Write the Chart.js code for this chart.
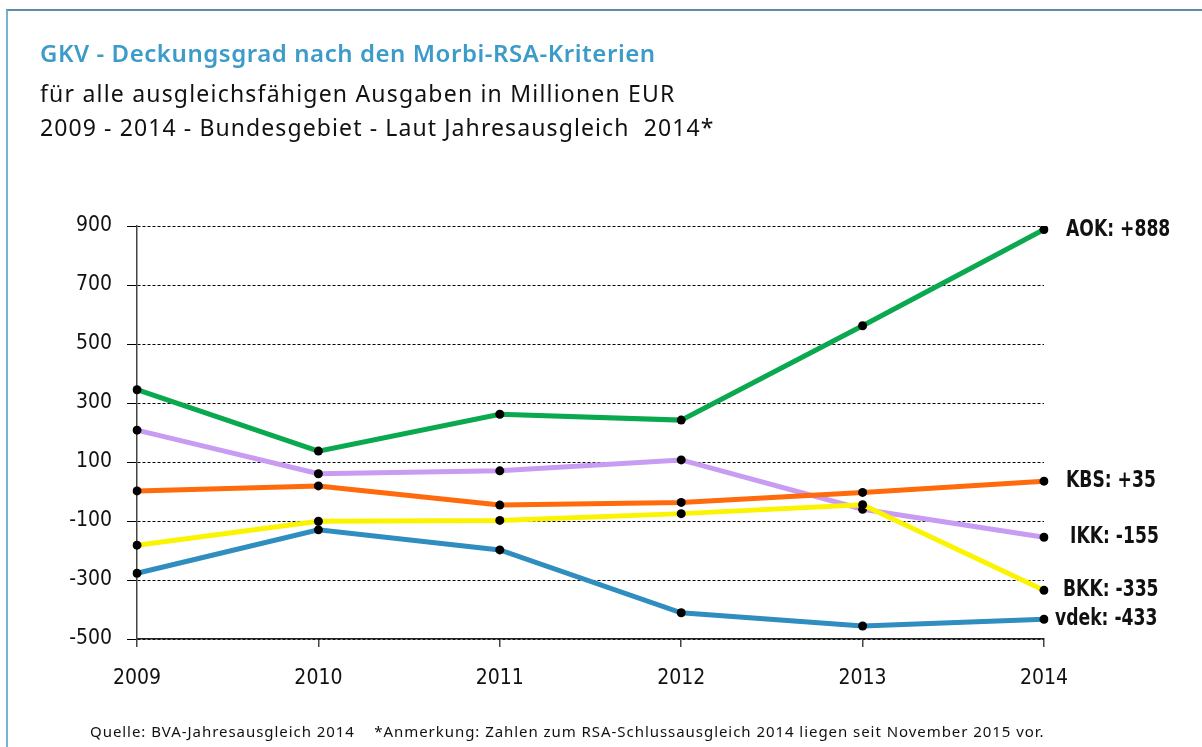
<!DOCTYPE html>
<html>
<head>
<meta charset="utf-8">
<script src="https://cdn.jsdelivr.net/npm/chart.js@4.4.1/dist/chart.umd.min.js"></script>
<style>
  html, body { margin: 0; padding: 0; background: #fff; }
  #wrap { position: relative; width: 1202px; height: 747px; overflow: hidden; }
  #frame { position: absolute; left: 6px; top: 9px; width: 1300px; height: 800px;
           border-top: 2px solid #5e8ea6; border-left: 2px solid #79b3cc; }
  canvas { position: absolute; left: 0; top: 0; }
  .t { position: absolute; left: 40px; white-space: pre; font-family: "Noto Sans", "Open Sans", sans-serif; }
  #title { top: 37px; font-size: 24px; font-weight: 600; color: #3d9bc9; line-height: 32px; letter-spacing: 0.55px; }
  #sub1 { top: 77px; font-size: 23px; color: #111; line-height: 32px; letter-spacing: 1.2px; }
  #sub2 { top: 111px; font-size: 23px; color: #111; line-height: 32px; letter-spacing: 1.1px; }
  #foot { left: 90px; top: 721px; font-size: 15px; color: #111; line-height: 20px; letter-spacing: 0.95px; }
</style>
</head>
<body>
<div id="wrap">
  <div id="frame"></div>
  <canvas id="c" width="1202" height="747"></canvas>
  <div class="t" id="title">GKV - Deckungsgrad nach den Morbi-RSA-Kriterien</div>
  <div class="t" id="sub1">für alle ausgleichsfähigen Ausgaben in Millionen EUR</div>
  <div class="t" id="sub2">2009 - 2014 - Bundesgebiet - Laut Jahresausgleich  2014*</div>
  <div class="t" id="foot">Quelle: BVA-Jahresausgleich 2014    *Anmerkung: Zahlen zum RSA-Schlussausgleich 2014 liegen seit November 2015 vor.</div>
</div>
<script>
// ---- data ----
const years = ["2009", "2010", "2011", "2012", "2013", "2014"];
const seriesNames = ["AOK", "KBS", "IKK", "BKK", "vdek"];
const aok  = [345, 137, 262, 242, 562, 888];
const kbs  = [2, 19, -46, -37, -3, 35];
const ikk  = [208, 60, 70, 107, -60, -155];
const bkk  = [-182, -101, -98, -75, -45, -335];
const vdek = [-277, -130, -198, -411, -456, -433];
const yTicks = [-500, -300, -100, 100, 300, 500, 700, 900];

const colors = { AOK: "#0aa84f", KBS: "#ff6a0c", IKK: "#c99cf4", BKK: "#fbf400", vdek: "#2f8dc0" };
const labelShift = { AOK: 22, KBS: 22, IKK: 26, BKK: 19, vdek: 11 };
const values = { AOK: aok, KBS: kbs, IKK: ikk, BKK: bkk, vdek: vdek };

const fontFam = "'Liberation Sans Narrow', 'DejaVu Sans Condensed', sans-serif";
const tickFont = { family: fontFam, size: 21 };

function fmt(v) { return (v > 0 ? "+" : "-") + Math.abs(v); }

const endLabels = {
  id: "endLabels",
  afterDatasetsDraw(chart) {
    const ctx = chart.ctx;
    chart.data.datasets.forEach((ds, i) => {
      const meta = chart.getDatasetMeta(i);
      const pt = meta.data[meta.data.length - 1];
      const last = ds.data[ds.data.length - 1];
      ctx.save();
      ctx.font = "bold 23px " + fontFam;
      ctx.fillStyle = "#111";
      ctx.textBaseline = "middle";
      ctx.textAlign = "left";
      ctx.translate(pt.x + labelShift[ds.label], pt.y);
      ctx.scale(0.83, 1);
      ctx.fillText(ds.label + ": " + fmt(last), 0, 0);
      ctx.restore();
    });
  }
};

// draw order: earlier in list = drawn on top
const order = ["vdek", "BKK", "KBS", "IKK", "AOK"];
const datasets = order.map(n => ({
  label: n,
  data: values[n],
  borderColor: colors[n],
  backgroundColor: colors[n],
  borderWidth: 5,
  tension: 0,
  fill: false,
  pointRadius: 4.5,
  pointBackgroundColor: "#000",
  pointBorderColor: "#000",
  pointBorderWidth: 0,
  pointHoverRadius: 4.5
}));

new Chart(document.getElementById("c"), {
  type: "line",
  data: { labels: years, datasets },
  plugins: [endLabels],
  options: {
    responsive: false,
    animation: false,
    devicePixelRatio: 1,
    layout: { padding: { left: 0, right: 158, top: 226, bottom: 0 } },
    plugins: { legend: { display: false }, tooltip: { enabled: false }, title: { display: false } },
    scales: {
      x: {
        type: "category",
        offset: false,
        afterFit: s => { s.height = 108; },
        grid: { drawOnChartArea: false, drawTicks: true, tickLength: 8, color: "#444", lineWidth: 1.5 },
        border: { display: true, color: "#222", width: 1.5 },
        ticks: { color: "#111", font: tickFont, padding: 19, maxRotation: 0 }
      },
      y: {
        min: -500, max: 900,
        afterFit: s => { s.width = 137; },
        afterBuildTicks: s => { s.ticks = yTicks.map(v => ({ value: v })); },
        grid: { color: "#000", lineWidth: 1, tickLength: 10, drawTicks: true },
        border: { display: true, color: "#444", width: 1.5, dash: [3, 2] },
        ticks: { color: "#111", font: tickFont, padding: 15, callback: v => String(v) }
      }
    }
  }
});
</script>
</body>
</html>
